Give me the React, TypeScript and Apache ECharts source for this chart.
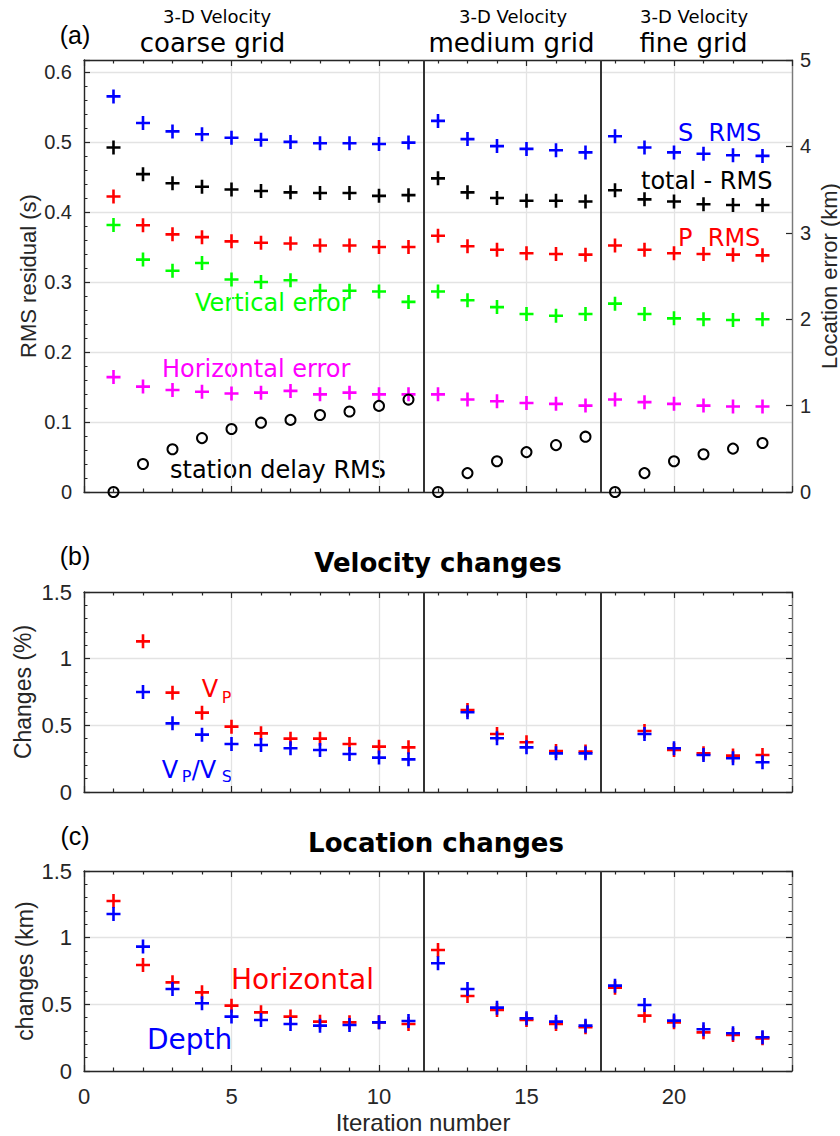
import React, { useEffect, useRef } from 'react';
import * as echarts from 'echarts';

// ---------- data ----------
const iterations = [1, 2, 3, 4, 5, 6, 7, 8, 9, 10, 11, 12, 13, 14, 15, 16, 17, 18, 19, 20, 21, 22, 23];

// (a) RMS residuals (s) and location errors (km)
const sRms = [0.565, 0.527, 0.515, 0.511, 0.506, 0.503, 0.5, 0.498, 0.498, 0.497, 0.499, 0.53, 0.504, 0.494, 0.49, 0.488, 0.485, 0.508, 0.492, 0.485, 0.483, 0.481, 0.48];
const totalRms = [0.492, 0.454, 0.441, 0.436, 0.432, 0.43, 0.428, 0.427, 0.427, 0.423, 0.424, 0.448, 0.428, 0.42, 0.416, 0.416, 0.415, 0.431, 0.418, 0.415, 0.411, 0.41, 0.41];
const pRms = [0.422, 0.381, 0.368, 0.364, 0.358, 0.356, 0.355, 0.352, 0.352, 0.35, 0.35, 0.366, 0.351, 0.346, 0.341, 0.34, 0.339, 0.352, 0.346, 0.341, 0.34, 0.339, 0.338];
const verticalError = [3.09, 2.69, 2.56, 2.65, 2.46, 2.43, 2.45, 2.33, 2.33, 2.32, 2.2, 2.32, 2.22, 2.14, 2.06, 2.04, 2.06, 2.18, 2.06, 2.01, 2.0, 1.99, 2.0];
const horizontalError = [1.33, 1.22, 1.18, 1.16, 1.14, 1.15, 1.17, 1.13, 1.15, 1.13, 1.13, 1.13, 1.07, 1.05, 1.03, 1.02, 1.0, 1.07, 1.04, 1.02, 1.0, 0.99, 0.99];
const stationDelayRms = [0.0, 0.04, 0.061, 0.077, 0.09, 0.099, 0.103, 0.11, 0.115, 0.123, 0.132, 0.0, 0.027, 0.044, 0.057, 0.067, 0.079, 0.0, 0.027, 0.044, 0.054, 0.062, 0.07];

// (b) velocity changes (%)
const velIterations = [2, 3, 4, 5, 6, 7, 8, 9, 10, 11, 13, 14, 15, 16, 17, 19, 20, 21, 22, 23];
const vpChange = [1.13, 0.745, 0.595, 0.49, 0.44, 0.4, 0.4, 0.36, 0.34, 0.335, 0.615, 0.435, 0.373, 0.308, 0.303, 0.458, 0.315, 0.29, 0.273, 0.278];
const vpvsChange = [0.75, 0.515, 0.43, 0.36, 0.353, 0.328, 0.315, 0.285, 0.258, 0.245, 0.598, 0.403, 0.335, 0.29, 0.29, 0.435, 0.328, 0.278, 0.253, 0.223];

// (c) location changes (km)
const horizontalChange = [1.275, 0.795, 0.665, 0.59, 0.49, 0.44, 0.408, 0.37, 0.365, 0.365, 0.353, 0.908, 0.563, 0.458, 0.383, 0.353, 0.328, 0.625, 0.415, 0.365, 0.29, 0.27, 0.245];
const depthChange = [1.178, 0.933, 0.615, 0.508, 0.408, 0.383, 0.353, 0.34, 0.345, 0.365, 0.375, 0.808, 0.615, 0.475, 0.395, 0.37, 0.34, 0.64, 0.495, 0.378, 0.313, 0.283, 0.253];

// grid boundaries between 3-D velocity grids
const gridBreaks = [11.5, 17.5];

// ---------- styling ----------
const PLUS = 'path://M-1.3,-7L1.3,-7L1.3,-1.3L7,-1.3L7,1.3L1.3,1.3L1.3,7L-1.3,7L-1.3,1.3L-7,1.3L-7,-1.3L-1.3,-1.3Z';
const AX = '#262626';
const GRIDC = '#e3e3e3';
const TICKF = '"Liberation Sans", Arial, sans-serif';
const DJ = '"DejaVu Sans", sans-serif';

const pairs = (xs: number[], ys: number[]) => xs.map((x, i) => [x, ys[i]]);

function xAxisDef(gridIndex: number, position: 'bottom' | 'top', showLabel: boolean) {
  return {
    type: 'value', gridIndex, position, min: 0, max: 24, interval: 5,
    axisLine: { show: true, onZero: false, lineStyle: { color: AX, width: 1.3 } },
    axisTick: { show: true, inside: true, length: 6, lineStyle: { color: AX, width: 1.2 } },
    minorTick: { show: true, splitNumber: 5, length: 3.5, lineStyle: { color: AX, width: 1.2 } },
    splitLine: { show: position === 'bottom', lineStyle: { color: GRIDC, width: 1.3 } },
    minorSplitLine: { show: false },
    axisLabel: { show: showLabel, showMaxLabel: false, fontSize: 22, fontFamily: TICKF, color: AX, margin: 14 },
  };
}

function yAxisDef(gridIndex: number, position: 'left' | 'right', o: any) {
  return {
    type: 'value', gridIndex, position,
    axisLine: { show: true, onZero: false, lineStyle: { color: position === 'left' ? AX : '#7a7a7a', width: 1.4 } },
    axisTick: { show: true, inside: true, length: 6, lineStyle: { color: AX, width: 1.2 } },
    splitLine: { show: false },
    ...o,
  };
}

function plusSeries(name: string, color: string, data: number[][], xi: number, yi: number, extra: any = {}) {
  return {
    name, type: 'scatter', xAxisIndex: xi, yAxisIndex: yi, data,
    symbol: PLUS, symbolSize: 14, itemStyle: { color, opacity: 1 },
    silent: true, ...extra,
  };
}

function breakLines() {
  return {
    silent: true, symbol: ['none', 'none'], label: { show: false },
    lineStyle: { color: '#333', width: 2, type: 'solid' },
    data: gridBreaks.map((b) => ({ xAxis: b })),
  };
}

function txt(text: string, x: number, y: number, fill: string, size: number, align = 'left', family = DJ, weight = 'normal', rotation = 0) {
  return {
    type: 'text', x, y, rotation, silent: true,
    style: { text, fill, fontSize: size, fontFamily: family, fontWeight: weight, align, verticalAlign: 'middle' },
  };
}

export default function App() {
  const ref = useRef<HTMLDivElement>(null);
  useEffect(() => {
    document.body.style.margin = '0';
    const chart = echarts.init(ref.current!, null, { renderer: 'svg' });
    const option: any = {
      animation: false,
      backgroundColor: '#ffffff',
      grid: [
        { left: 84, top: 60, width: 708, height: 432 },
        { left: 84, top: 592, width: 708, height: 200 },
        { left: 84, top: 871, width: 708, height: 200 },
      ],
      xAxis: [
        xAxisDef(0, 'bottom', false), xAxisDef(0, 'top', false),
        xAxisDef(1, 'bottom', false), xAxisDef(1, 'top', false),
        xAxisDef(2, 'bottom', true), xAxisDef(2, 'top', false),
      ],
      yAxis: [
        yAxisDef(0, 'left', {
          min: 0, max: 0.617, interval: 0.1,
          minorTick: { show: true, splitNumber: 5, length: 3.5, lineStyle: { color: AX } },
          splitLine: { show: true, lineStyle: { color: GRIDC, width: 1.3 } },
          axisLabel: { showMaxLabel: false, fontSize: 20, fontFamily: TICKF, color: AX, margin: 12 },
        }),
        yAxisDef(0, 'right', {
          min: 0, max: 5, interval: 1,
          axisLabel: { fontSize: 20, fontFamily: TICKF, color: AX, margin: 8 },
        }),
        yAxisDef(1, 'left', {
          min: 0, max: 1.5, interval: 0.5,
          minorTick: { show: true, splitNumber: 5, length: 3.5, lineStyle: { color: AX } },
          splitLine: { show: true, lineStyle: { color: GRIDC, width: 1.3 } },
          axisLabel: { fontSize: 22, fontFamily: TICKF, color: AX, margin: 12 },
        }),
        yAxisDef(1, 'right', {
          min: 0, max: 1.5, interval: 0.5,
          minorTick: { show: true, splitNumber: 5, length: 3.5, lineStyle: { color: AX } },
          axisLabel: { show: false },
        }),
        yAxisDef(2, 'left', {
          min: 0, max: 1.5, interval: 0.5,
          minorTick: { show: true, splitNumber: 5, length: 3.5, lineStyle: { color: AX } },
          splitLine: { show: true, lineStyle: { color: GRIDC, width: 1.3 } },
          axisLabel: { fontSize: 22, fontFamily: TICKF, color: AX, margin: 12 },
        }),
        yAxisDef(2, 'right', {
          min: 0, max: 1.5, interval: 0.5,
          minorTick: { show: true, splitNumber: 5, length: 3.5, lineStyle: { color: AX } },
          axisLabel: { show: false },
        }),
      ],
      series: [
        // (a)
        plusSeries('S RMS', '#0000ff', pairs(iterations, sRms), 0, 0, { markLine: breakLines() }),
        plusSeries('total - RMS', '#000000', pairs(iterations, totalRms), 0, 0),
        plusSeries('P RMS', '#ff0000', pairs(iterations, pRms), 0, 0),
        plusSeries('Vertical error', '#00ff00', pairs(iterations, verticalError), 0, 1),
        plusSeries('Horizontal error', '#ff00ff', pairs(iterations, horizontalError), 0, 1),
        {
          name: 'station delay RMS', type: 'scatter', xAxisIndex: 0, yAxisIndex: 0,
          data: pairs(iterations, stationDelayRms), symbol: 'circle', symbolSize: 10, silent: true,
          itemStyle: { color: 'rgba(0,0,0,0)', borderColor: '#000', borderWidth: 2, opacity: 1 },
        },
        // (b)
        plusSeries('VP', '#ff0000', pairs(velIterations, vpChange), 2, 2, { markLine: breakLines() }),
        plusSeries('VP/VS', '#0000ff', pairs(velIterations, vpvsChange), 2, 2),
        // (c)
        plusSeries('Horizontal', '#ff0000', pairs(iterations, horizontalChange), 4, 4, { markLine: breakLines() }),
        plusSeries('Depth', '#0000ff', pairs(iterations, depthChange), 4, 4),
      ],
      graphic: [
        // panel (a) headings
        txt('(a)', 75, 35, '#000', 25, 'center', TICKF),
        txt('3-D Velocity', 217, 16, '#000', 18, 'center'),
        txt('coarse grid', 212.5, 43, '#000', 26, 'center'),
        txt('3-D Velocity', 513, 16, '#000', 18, 'center'),
        txt('medium grid', 511.5, 42.5, '#000', 26, 'center'),
        txt('3-D Velocity', 694, 16, '#000', 18, 'center'),
        txt('fine grid', 693.5, 42.5, '#000', 26, 'center'),
        // panel (a) annotations
        txt('S  RMS', 678, 133, '#0000ff', 24),
        txt('total - RMS', 641, 181, '#000000', 24),
        txt('P  RMS', 678, 238, '#ff0000', 24),
        txt('Vertical error', 195, 303, '#00ff00', 24),
        txt('Horizontal error', 162, 369, '#ff00ff', 24),
        txt('station delay RMS', 170, 470, '#000000', 24),
        // axis names
        txt('RMS residual (s)', 28, 276, '#262626', 22, 'center', TICKF, 'normal', Math.PI / 2),
        txt('Location error (km)', 829, 276, '#262626', 22, 'center', TICKF, 'normal', Math.PI / 2),
        txt('Changes (%)', 22.5, 692, '#262626', 23, 'center', TICKF, 'normal', Math.PI / 2),
        txt('changes (km)', 25, 971, '#262626', 23, 'center', TICKF, 'normal', Math.PI / 2),
        txt('Iteration number', 423, 1122, '#262626', 24, 'center', TICKF),
        // panel (b)
        txt('(b)', 75, 556, '#000', 25, 'center', TICKF),
        txt('Velocity changes', 438, 563, '#000', 26, 'center', DJ, 'bold'),
        txt('V', 201.7, 688.5, '#ff0000', 24),
        txt('P', 221.7, 697.5, '#ff0000', 16),
        txt('V', 161.7, 770, '#0000ff', 24),
        txt('P', 181.7, 776, '#0000ff', 16),
        txt('/V', 191.7, 770, '#0000ff', 24),
        txt('S', 221.7, 776, '#0000ff', 16),
        // panel (c)
        txt('(c)', 75, 836, '#000', 25, 'center', TICKF),
        txt('Location changes', 436, 843, '#000', 26, 'center', DJ, 'bold'),
        txt('Horizontal', 231, 979, '#ff0000', 28),
        txt('Depth', 147, 1039.5, '#0000ff', 28),
      ],
    };
    chart.setOption(option);
    return () => chart.dispose();
  }, []);
  return <div ref={ref} style={{ width: 840, height: 1136 }} />;
}
